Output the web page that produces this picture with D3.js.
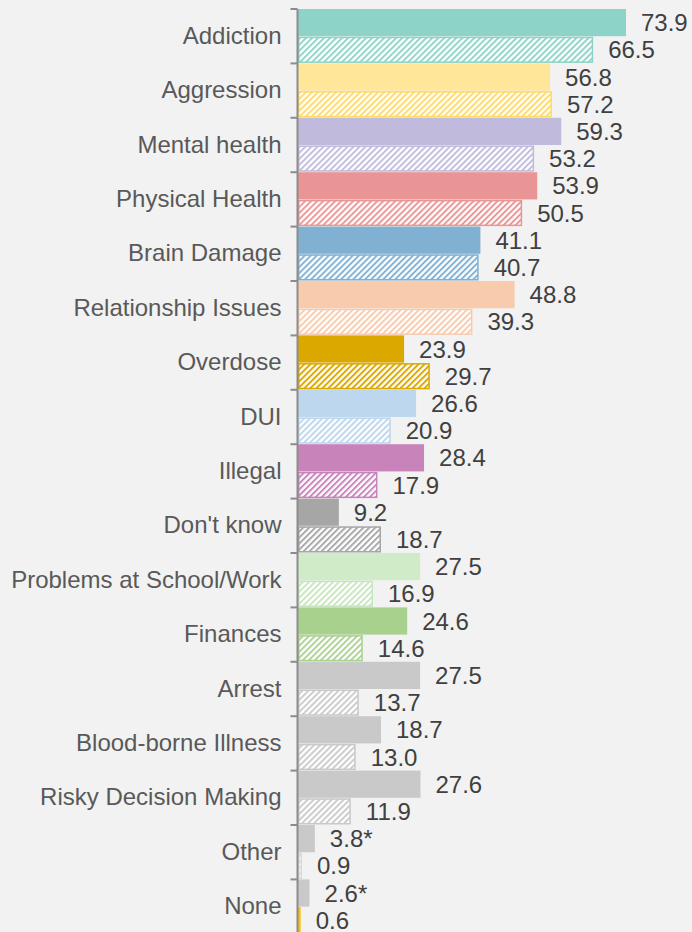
<!DOCTYPE html>
<html>
<head>
<meta charset="utf-8">
<script src="https://cdn.jsdelivr.net/npm/d3@7"></script>
<style>
  html, body { margin: 0; padding: 0; background: #f2f2f2; }
  svg { display: block; }
  text { font-family: "Liberation Sans", Arial, sans-serif; }
</style>
</head>
<body>
<svg id="chart" width="692" height="932"></svg>
<script>
// Harms named, per category: first (solid) and second (hatched) series, in percent
const categories = [
  "Addiction", "Aggression", "Mental health", "Physical Health", "Brain Damage",
  "Relationship Issues", "Overdose", "DUI", "Illegal", "Don't know",
  "Problems at School/Work", "Finances", "Arrest", "Blood-borne Illness",
  "Risky Decision Making", "Other", "None"
];
const solidValues   = [73.9, 56.8, 59.3, 53.9, 41.1, 48.8, 23.9, 26.6, 28.4, 9.2, 27.5, 24.6, 27.5, 18.7, 27.6, 3.8, 2.6];
const hatchedValues = [66.5, 57.2, 53.2, 50.5, 40.7, 39.3, 29.7, 20.9, 17.9, 18.7, 16.9, 14.6, 13.7, 13.0, 11.9, 0.9, 0.6];
const solidLabels   = ["73.9", "56.8", "59.3", "53.9", "41.1", "48.8", "23.9", "26.6", "28.4", "9.2", "27.5", "24.6", "27.5", "18.7", "27.6", "3.8*", "2.6*"];
const hatchedLabels = ["66.5", "57.2", "53.2", "50.5", "40.7", "39.3", "29.7", "20.9", "17.9", "18.7", "16.9", "14.6", "13.7", "13.0", "11.9", "0.9", "0.6"];
const solidColors   = ["#8dd3c7", "#ffe699", "#c0bbdc", "#ea9595", "#80b1d3", "#f8cbad", "#dba800", "#bdd7ee", "#c983bb", "#a6a6a6", "#d0ebc7", "#a9d18e", "#c9c9c9", "#c9c9c9", "#c9c9c9", "#c9c9c9", "#c9c9c9"];
const hatchColors   = ["#8dd3c7", "#ffd966", "#c0bbdc", "#ea9595", "#80b1d3", "#f8cbad", "#dba800", "#bdd7ee", "#c983bb", "#a6a6a6", "#c5e6bb", "#a9d18e", "#c9c9c9", "#c9c9c9", "#c9c9c9", "#d9d9d9", "#ffc000"];

const rows = categories.map((c, i) => ({
  name: c, i,
  solid: solidValues[i], hatched: hatchedValues[i],
  solidLabel: solidLabels[i], hatchedLabel: hatchedLabels[i],
  solidColor: solidColors[i], hatchColor: hatchColors[i]
}));

const svg = d3.select("#chart");
const axisX = 297.5;
const fontSize = 24;

const x = d3.scaleLinear().domain([0, 73.9]).range([axisX + 0.5, 626]);
const y = d3.scaleBand().domain(categories).range([9, 9 + 17 * 54.4]).padding(0);
const sub = d3.scaleBand().domain(["solid", "hatched"]).range([0, y.bandwidth()]).padding(0);

// diagonal hatch fills, one per colour
const defs = svg.append("defs");
rows.forEach(r => {
  const p = defs.append("pattern")
    .attr("id", "hatch" + r.i)
    .attr("patternUnits", "userSpaceOnUse")
    .attr("width", 4.25).attr("height", 4.25)
    .attr("patternTransform", "rotate(45)");
  p.append("rect").attr("width", 4.25).attr("height", 4.25).attr("fill", "#ffffff");
  p.append("line")
    .attr("x1", 1).attr("y1", 0).attr("x2", 1).attr("y2", 4.25)
    .attr("stroke", r.hatchColor).attr("stroke-width", 1.9);
});

const g = svg.append("g");

// solid bars
g.selectAll("rect.solid").data(rows).join("rect")
  .attr("class", "solid")
  .attr("x", x(0))
  .attr("y", d => y(d.name) + sub("solid"))
  .attr("width", d => x(d.solid) - x(0))
  .attr("height", sub.bandwidth())
  .attr("fill", d => d.solidColor);

// hatched bars
g.selectAll("rect.hatched").data(rows).join("rect")
  .attr("class", "hatched")
  .attr("x", x(0) + 0.75)
  .attr("y", d => y(d.name) + sub("hatched") + 1.25)
  .attr("width", d => Math.max(0, x(d.hatched) - x(0) - 1.5))
  .attr("height", sub.bandwidth() - 2.5)
  .attr("fill", d => `url(#hatch${d.i})`)
  .attr("stroke", d => d.hatchColor)
  .attr("stroke-width", 1.5);

// value labels
g.selectAll("text.vs").data(rows).join("text")
  .attr("class", "vs")
  .attr("x", d => x(d.solid) + 15)
  .attr("y", d => y(d.name) + sub("solid") + sub.bandwidth() / 2)
  .attr("dy", "0.36em")
  .attr("font-size", fontSize)
  .attr("fill", "#404040")
  .text(d => d.solidLabel);

g.selectAll("text.vh").data(rows).join("text")
  .attr("class", "vh")
  .attr("x", d => x(d.hatched) + 15)
  .attr("y", d => y(d.name) + sub("hatched") + sub.bandwidth() / 2)
  .attr("dy", "0.36em")
  .attr("font-size", fontSize)
  .attr("fill", "#404040")
  .text(d => d.hatchedLabel);

// category axis: vertical line with ticks on band boundaries
const axis = svg.append("g")
  .attr("transform", `translate(${axisX},0)`)
  .call(d3.axisLeft(y).tickSize(0).tickPadding(16).tickFormat(d => d));
axis.select(".domain").attr("stroke", "#8c8c8c").attr("stroke-width", 2)
  .attr("d", `M0,${y.range()[0]}V${y.range()[1]}`);
axis.selectAll(".tick text")
  .attr("font-family", "'Liberation Sans', Arial, sans-serif")
  .attr("font-size", fontSize)
  .attr("fill", "#595959");

const bounds = categories.map(c => y(c)).concat([y.range()[1]]);
axis.selectAll("line.bound").data(bounds).join("line")
  .attr("class", "bound")
  .attr("x1", -7).attr("x2", 0)
  .attr("y1", d => d).attr("y2", d => d)
  .attr("stroke", "#8c8c8c").attr("stroke-width", 2);
</script>
</body>
</html>
